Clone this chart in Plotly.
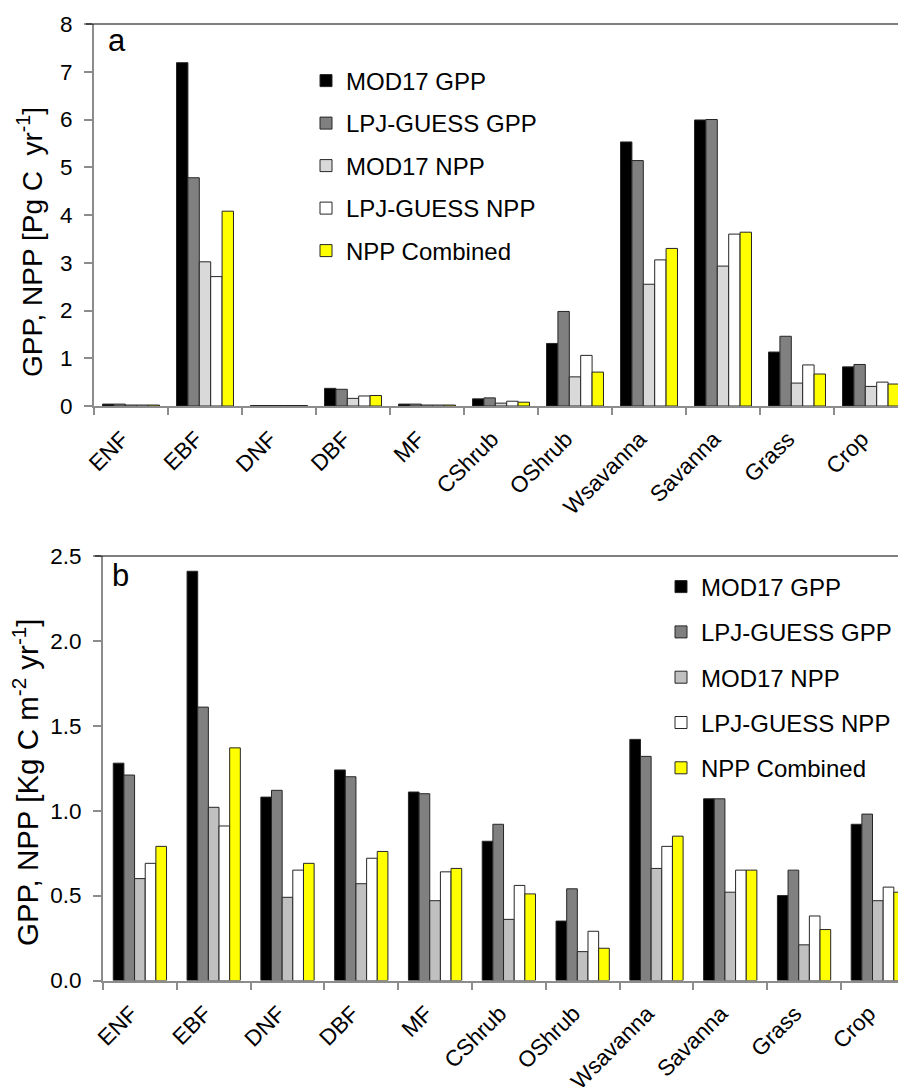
import plotly.graph_objects as go

categories = ["ENF", "EBF", "DNF", "DBF", "MF", "CShrub", "OShrub",
              "Wsavanna", "Savanna", "Grass", "Crop"]
series_names = ["MOD17 GPP", "LPJ-GUESS GPP", "MOD17 NPP",
                "LPJ-GUESS NPP", "NPP Combined"]

# panel a: totals [Pg C yr-1]
a_mod_gpp = [0.04, 7.19, 0.01, 0.37, 0.04, 0.15, 1.31, 5.53, 5.99, 1.13, 0.82]
a_lpj_gpp = [0.04, 4.78, 0.01, 0.35, 0.04, 0.17, 1.98, 5.14, 6.00, 1.46, 0.87]
a_mod_npp = [0.02, 3.02, 0.01, 0.16, 0.02, 0.06, 0.61, 2.55, 2.93, 0.48, 0.41]
a_lpj_npp = [0.02, 2.71, 0.01, 0.21, 0.02, 0.10, 1.06, 3.06, 3.60, 0.86, 0.50]
a_combined = [0.02, 4.08, 0.01, 0.22, 0.02, 0.08, 0.71, 3.30, 3.64, 0.67, 0.46]

# panel b: per area [Kg C m-2 yr-1]
b_mod_gpp = [1.28, 2.41, 1.08, 1.24, 1.11, 0.82, 0.35, 1.42, 1.07, 0.50, 0.92]
b_lpj_gpp = [1.21, 1.61, 1.12, 1.20, 1.10, 0.92, 0.54, 1.32, 1.07, 0.65, 0.98]
b_mod_npp = [0.60, 1.02, 0.49, 0.57, 0.47, 0.36, 0.17, 0.66, 0.52, 0.21, 0.47]
b_lpj_npp = [0.69, 0.91, 0.65, 0.72, 0.64, 0.56, 0.29, 0.79, 0.65, 0.38, 0.55]
b_combined = [0.79, 1.37, 0.69, 0.76, 0.66, 0.51, 0.19, 0.85, 0.65, 0.30, 0.52]

W, H = 906, 1090
FONT = "Liberation Sans, Arial, sans-serif"
AXIS_GRAY = "#8c8c8c"

colors_a = ["#000000", "#808080", "#d9d9d9", "#ffffff", "#ffff00"]
colors_b = ["#000000", "#808080", "#c0c0c0", "#ffffff", "#ffff00"]


def px(x):
    return x / W


def py(y):
    # pixel measured from the top -> paper fraction
    return (H - y) / H


fig = go.Figure()


def add_group(values, colors, group_w, xa, ya, legend, tag):
    bw = group_w / len(values)
    for i, (name, vals) in enumerate(zip(series_names, values)):
        fig.add_trace(go.Bar(
            x=categories, y=vals, name=name, xaxis=xa, yaxis=ya,
            width=bw, offset=-group_w / 2 + i * bw,
            marker=dict(color=colors[i], line=dict(color="#262626", width=1)),
            legend=legend, legendgroup=tag + str(i),
        ))


add_group([a_mod_gpp, a_lpj_gpp, a_mod_npp, a_lpj_npp, a_combined],
          colors_a, 0.77, "x", "y", "legend", "a")
add_group([b_mod_gpp, b_lpj_gpp, b_mod_npp, b_lpj_npp, b_combined],
          colors_b, 0.722, "x2", "y2", "legend2", "b")

xcommon = dict(
    type="category", tickson="boundaries", ticks="outside", ticklen=7,
    tickcolor=AXIS_GRAY, tickwidth=1.5, showline=True, linecolor=AXIS_GRAY,
    linewidth=2, showgrid=False, tickangle=-45,
    tickfont=dict(family=FONT, size=22.5, color="black"),
    ticklabelstandoff=9, ticklabelshift=-9,
    automargin=False,
)
ycommon = dict(
    ticks="outside", ticklen=8, tickcolor=AXIS_GRAY, tickwidth=1.5,
    showline=True, linecolor=AXIS_GRAY, linewidth=2, showgrid=False,
    zeroline=False, tickfont=dict(family=FONT, size=22.5, color="black"),
    automargin=False, ticklabelstandoff=7,
)

legend_common = dict(
    font=dict(family=FONT, size=24, color="black"),
    bgcolor="rgba(0,0,0,0)", traceorder="grouped",
    xanchor="left", yanchor="top",
)

fig.update_layout(
    width=W, height=H, autosize=False,
    margin=dict(l=0, r=0, t=0, b=0, pad=0, autoexpand=False),
    paper_bgcolor="white", plot_bgcolor="white",
    barmode="overlay",
    font=dict(family=FONT, color="black"),
    xaxis=dict(xcommon, domain=[px(86), px(900)], anchor="y",
               range=[-0.5, 10.5]),
    yaxis=dict(ycommon, domain=[py(398), py(16)], anchor="x",
               range=[0, 8], dtick=1),
    xaxis2=dict(xcommon, domain=[px(95), 1], anchor="y2",
                range=[-0.5, 10.49]),
    yaxis2=dict(ycommon, domain=[py(972.5), py(548)], anchor="x2",
                range=[0, 2.5], dtick=0.5, tickformat=".1f"),
    legend=dict(legend_common, x=px(298), y=py(50.5), tracegroupgap=8.3),
    legend2=dict(legend_common, x=px(653), y=py(556.5), tracegroupgap=11.1),
    showlegend=True,
)

# black top border of each plot area
fig.add_shape(type="line", xref="x domain", yref="y domain",
              x0=-8 / (900 - 86), x1=1, y0=1, y1=1,
              line=dict(color="black", width=1.2))
fig.add_shape(type="line", xref="x2 domain", yref="y2 domain",
              x0=-8 / (W - 95), x1=1, y0=1, y1=1,
              line=dict(color="black", width=1.2))

fig.add_annotation(text="GPP, NPP [Pg C  yr<sup>-1</sup>]", textangle=-90,
                   xref="paper", yref="paper", x=px(22), y=py(234),
                   xanchor="center", yanchor="middle",
                   showarrow=False, font=dict(family=FONT, size=28))
fig.add_annotation(text="GPP, NPP [Kg C m<sup>-2</sup> yr<sup>-1</sup>]", textangle=-90,
                   xref="paper", yref="paper", x=px(17), y=py(775),
                   xanchor="center", yanchor="middle",
                   showarrow=False, font=dict(family=FONT, size=29.5))

fig.add_annotation(text="a", xref="paper", yref="paper", x=px(98), y=py(32),
                   xanchor="left", yanchor="middle", showarrow=False,
                   font=dict(family=FONT, size=31))
fig.add_annotation(text="b", xref="paper", yref="paper", x=px(102), y=py(567),
                   xanchor="left", yanchor="middle", showarrow=False,
                   font=dict(family=FONT, size=31))

fig.write_html("out.html")
